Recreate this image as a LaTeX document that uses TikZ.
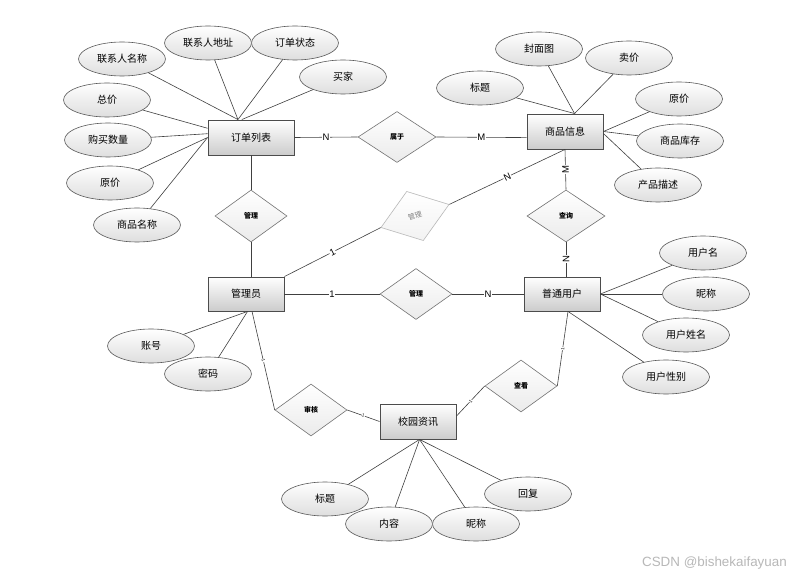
\documentclass[tikz,border=0pt]{standalone}
\usepackage{fontspec}
\setmainfont{Noto Sans CJK SC}
\newfontfamily\latinfont{Liberation Sans}
\usetikzlibrary{shapes.geometric}
\begin{document}
\begin{tikzpicture}[x=1pt,y=-1pt,
  ent/.style={draw=black!70, line width=0.9pt, top color=white, bottom color=black!20,
    minimum width=76pt, minimum height=35pt, inner sep=0pt, font=\fontsize{10}{12}\selectfont},
  attr/.style={ellipse, draw=black!65, line width=0.6pt, top color=white, bottom color=black!13,
    minimum width=87pt, minimum height=34pt, inner sep=0pt, font=\fontsize{10}{12}\selectfont},
  rel/.style={diamond, draw=black!55, line width=0.6pt, top color=white, bottom color=black!8,
    minimum width=72pt, minimum height=52pt, inner sep=0pt, font=\fontsize{7}{8}\selectfont\bfseries},
  grel/.style={diamond, draw=black!28, line width=0.6pt, top color=white, bottom color=black!5,
    minimum width=72pt, minimum height=52pt, inner sep=0pt, text=black!50, font=\fontsize{7}{8}\selectfont},
  link/.style={draw=black!75, line width=0.6pt},
  card/.style={fill=white, inner sep=0.6pt, font=\latinfont\fontsize{9.5}{10}\selectfont},
  tick/.style={fill=white, inner sep=0.2pt, sloped, font=\latinfont\fontsize{4.5}{5}\selectfont}
]
\path[use as bounding box, fill=white] (0,0) rectangle (798,577);

% entities
\node[ent, minimum width=86pt] (order) at (251,137.5) {订单列表};
\node[ent] (goods) at (565,131.5) {商品信息};
\node[ent, minimum height=34pt] (admin) at (246,294) {管理员};
\node[ent, minimum height=34pt] (user) at (562,294) {普通用户};
\node[ent] (news) at (418,421.5) {校园资讯};

% relationships
\node[rel, minimum width=78pt, minimum height=51pt] (belong) at (397,137) {属于};
\node[rel] (m1) at (251,216) {管理};
\node[grel, rotate=18.7] (m2) at (415,216) {管理};
\node[rel, minimum width=78pt] (query) at (566,216) {查询};
\node[rel, minimum height=51pt] (m3) at (416,294) {管理};
\node[rel] (audit) at (311,410) {审核};
\node[rel] (view) at (521,386) {查看};

% attributes of order
\node[attr] (a1) at (122,59) {联系人名称};
\node[attr] (a2) at (208,43) {联系人地址};
\node[attr] (a3) at (295,43) {订单状态};
\node[attr] (a4) at (343,77) {买家};
\node[attr] (a5) at (107,100) {总价};
\node[attr] (a6) at (108,140) {购买数量};
\node[attr] (a7) at (110,183) {原价};
\node[attr] (a8) at (137,225) {商品名称};
% attributes of goods
\node[attr] (g1) at (539,49) {封面图};
\node[attr] (g2) at (629,58) {卖价};
\node[attr] (g3) at (480,88) {标题};
\node[attr] (g4) at (679,99) {原价};
\node[attr] (g5) at (680,141) {商品库存};
\node[attr] (g6) at (658,185) {产品描述};
% attributes of user
\node[attr] (u1) at (703,253) {用户名};
\node[attr] (u2) at (706,294) {昵称};
\node[attr] (u3) at (686,335) {用户姓名};
\node[attr] (u4) at (666,377) {用户性别};
% attributes of admin
\node[attr] (d1) at (151,346) {账号};
\node[attr] (d2) at (208,374) {密码};
% attributes of news
\node[attr] (n1) at (325,499) {标题};
\node[attr] (n2) at (389,524) {内容};
\node[attr] (n3) at (476,524) {昵称};
\node[attr] (n4) at (528,494) {回复};

% attribute links
\draw[link] (a1) -- (order.126.6);
\draw[link] (a2) -- (order.126.6);
\draw[link] (a3) -- (order.126.6);
\draw[link] (a4) -- (order.117.2);
\draw[link] (a5) -- (order.168.8);
\draw[link] (a6) -- (order.175.3);
\draw[link] (a7) -- (order.180.7);
\draw[link] (a8) -- (order.180.7);

\draw[link] (g1) -- (goods.62.8);
\draw[link] (g2) -- (goods.62.8);
\draw[link] (g3) -- (goods.62.8);
\draw[link] (g4) -- (goods.east);
\draw[link] (g5) -- (goods.east);
\draw[link] (g6) -- (goods.-3);

\draw[link] (u1) -- (user.east);
\draw[link] (u2) -- (user.east);
\draw[link] (u3) -- (user.east);
\draw[link] (u4) -- (user.-71);

\draw[link] (d1) -- (admin.-85);
\draw[link] (d2) -- (admin.-85);

\draw[link] (n1) -- (news.-85);
\draw[link] (n2) -- (news.-85);
\draw[link] (n3) -- (news.-85);
\draw[link] (n4) -- (news.-85);

% relationship links
\draw[link] (order.east) -- node[card]{N} (belong.west);
\draw[link] (belong.east) -- node[card]{M} (goods.189);
\draw[link] (order.south) -- (m1.north);
\draw[link] (m1.south) -- (m1.south |- admin.north);
\draw[link] (m2.west) -- node[card, sloped]{1} (admin.north east);
\draw[link] (m2.east) -- node[card, sloped]{N} (goods.south);
\draw[link] (goods.south) -- node[card, rotate=90]{M} (query.north);
\draw[link] (query.south) -- node[card, rotate=90]{N} (query.south |- user.north);
\draw[link] (admin.east) -- node[card]{1} (m3.west);
\draw[link] (m3.east) -- node[card]{N} (user.west);
\draw[link] (admin.-71) -- node[tick]{1} (audit.west);
\draw[link] (audit.east) -- node[tick]{1} (news.west);
\draw[link] (user.-71) -- node[tick]{1} (view.east);
\draw[link] (view.west) -- node[tick]{1} (news.8);

% watermark
\node[anchor=east, text=black!28, inner sep=0pt, font=\latinfont\fontsize{13.4}{14}\selectfont] (wm) at (787,563) {CSDN @bishekaifayuan};
\end{tikzpicture}
\end{document}
